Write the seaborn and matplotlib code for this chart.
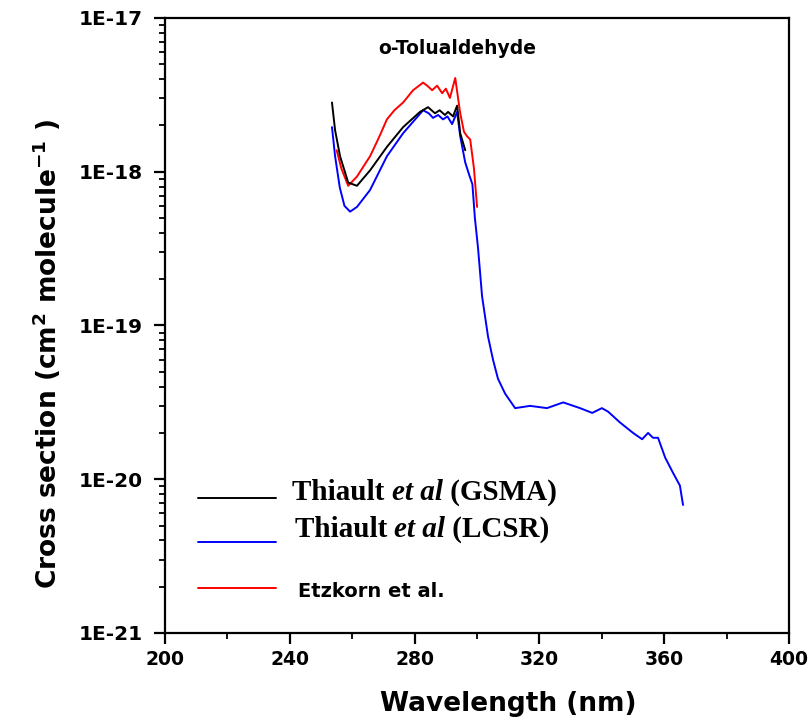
import matplotlib
matplotlib.use("Agg")
import matplotlib.pyplot as plt
import matplotlib.ticker as mticker
import numpy as np
import pandas as pd
import seaborn as sns

sns.set_theme(style="ticks")
plt.rcParams.update({'font.family'      : ['DejaVu Sans'],
                     'font.weight'      : 'bold',
                     'text.color'       : 'black',
                     'axes.labelcolor'  : 'black',
                     'xtick.color'      : 'black',
                     'ytick.color'      : 'black',
                     'axes.linewidth'   : 1.6,
                     'mathtext.fontset' : 'dejavusans'})

# Thiault et al (GSMA)
wl_gsma = [253.5, 254.5, 256.1, 258.7, 261.5, 265.7, 271.1, 276.3, 281.7, 284.3,
           286.5, 288.0, 289.7, 290.7, 292.3, 293.6, 294.6, 296.2]
xs_gsma = [2.82e-18, 1.86e-18, 1.26e-18, 8.5e-19, 8.1e-19, 1.02e-18, 1.45e-18, 1.95e-18, 2.45e-18, 2.63e-18,
           2.40e-18, 2.51e-18, 2.34e-18, 2.45e-18, 2.29e-18, 2.69e-18, 1.78e-18, 1.38e-18]

# Thiault et al (LCSR)
wl_lcsr = [253.5, 254.5, 256.0, 257.5, 259.3, 261.5, 265.7, 271.1, 276.3, 282.7,
           284.5, 285.9, 287.5, 289.1, 290.5, 292.0, 293.6, 294.6, 296.2, 297.5,
           298.5, 299.3, 300.3, 301.6, 303.5, 305.1, 306.7, 309.0, 312.2, 317.0,
           322.4, 327.6, 333.0, 336.9, 340.0, 342.0, 345.8, 350.0, 352.9, 354.8,
           356.4, 358.0, 360.3, 362.8, 365.0, 366.0]
xs_lcsr = [1.95e-18, 1.26e-18, 7.9e-19, 6.0e-19, 5.5e-19, 5.9e-19, 7.6e-19, 1.26e-18, 1.78e-18, 2.51e-18,
           2.40e-18, 2.24e-18, 2.34e-18, 2.19e-18, 2.29e-18, 2.04e-18, 2.45e-18, 1.70e-18, 1.15e-18, 9.5e-19,
           8.3e-19, 5.0e-19, 3.2e-19, 1.55e-19, 8.5e-20, 6.0e-20, 4.5e-20, 3.6e-20, 2.9e-20, 3.0e-20,
           2.9e-20, 3.16e-20, 2.9e-20, 2.7e-20, 2.9e-20, 2.75e-20, 2.34e-20, 2.0e-20, 1.82e-20, 2.0e-20,
           1.86e-20, 1.86e-20, 1.38e-20, 1.10e-20, 9.1e-21, 6.8e-21]

# Etzkorn et al.
wl_etz = [255.0, 256.5, 258.7, 261.5, 265.7, 268.5, 271.1, 273.5, 276.3, 279.5,
          282.7, 284.0, 285.6, 287.2, 288.8, 290.0, 291.3, 293.0, 294.6, 295.8,
          296.8, 297.8, 299.0, 300.0]
xs_etz = [1.38e-18, 1.05e-18, 8.1e-19, 9.3e-19, 1.26e-18, 1.66e-18, 2.19e-18, 2.51e-18, 2.82e-18, 3.39e-18,
          3.80e-18, 3.63e-18, 3.39e-18, 3.63e-18, 3.24e-18, 3.47e-18, 3.02e-18, 4.07e-18, 2.40e-18, 1.82e-18,
          1.70e-18, 1.62e-18, 1.05e-18, 5.9e-19]

series_names = ['GSMA', 'LCSR', 'Etzkorn']
series_colors = {'GSMA': 'black', 'LCSR': '#0000ff', 'Etzkorn': '#ff0000'}

y_major = [1e-21, 1e-20, 1e-19, 1e-18, 1e-17]

df = pd.concat([
    pd.DataFrame({'wl': wl_gsma, 'xs': xs_gsma, 'src': 'GSMA'}),
    pd.DataFrame({'wl': wl_lcsr, 'xs': xs_lcsr, 'src': 'LCSR'}),
    pd.DataFrame({'wl': wl_etz,  'xs': xs_etz,  'src': 'Etzkorn'}),
])

fig = plt.figure(figsize=(8.11, 7.22), dpi=100)
ax = fig.add_axes([0.2035, 0.1233, 0.7695, 0.8518])

# blue underneath, black on top
for name in ['LCSR', 'Etzkorn', 'GSMA']:
    sns.lineplot(data=df[df['src'] == name], x='wl', y='xs', ax=ax, sort=False,
                 estimator=None, color=series_colors[name], lw=1.4, legend=False)

ax.set_yscale('log')
ax.set_xlim(200, 400)
ax.set_ylim(1e-21, 1e-17)
ax.xaxis.set_major_locator(mticker.MultipleLocator(40))
ax.xaxis.set_minor_locator(mticker.MultipleLocator(20))
y_minor = [m * v for v in y_major[:-1] for m in range(2, 10)]
ax.yaxis.set_major_locator(mticker.FixedLocator(y_major))
ax.yaxis.set_minor_locator(mticker.FixedLocator(y_minor))
ax.yaxis.set_minor_formatter(mticker.NullFormatter())
ax.yaxis.set_major_formatter(mticker.FuncFormatter(lambda v, p: f"1E{int(round(np.log10(v)))}"))
ax.tick_params(axis='both', which='major', direction='out', length=8, width=1.6)
ax.tick_params(axis='x', which='major', labelsize=13.5, pad=4)
ax.tick_params(axis='y', which='major', labelsize=14.5, pad=8)
ax.tick_params(axis='both', which='minor', direction='out', length=4.5, width=1.3)
ax.tick_params(top=False, right=False, which='both')
for s in ax.spines.values():
    s.set_linewidth(1.6)
    s.set_color('black')

ax.set_xlabel("Wavelength (nm)", fontsize=19, fontweight='bold', va='top')
ax.xaxis.set_label_coords(0.55, -0.095)
ax.set_ylabel(r"Cross section (cm$^{\mathbf{2}}$ molecule$^{\mathbf{-1}}$ )", fontsize=19,
              fontweight='bold', va='center')
ax.yaxis.set_label_coords(-0.189, 0.454)

ax.text(0.468, 0.9496, "o-Tolualdehyde", transform=ax.transAxes, ha='center', va='center',
        fontsize=13.5, fontweight='bold')

# legend drawn by hand
leg_y = {'GSMA': 0.2195, 'LCSR': 0.148, 'Etzkorn': 0.073}
for name in series_names:
    ax.plot([0.053, 0.178], [leg_y[name], leg_y[name]], transform=ax.transAxes,
            color=series_colors[name], lw=1.4)
serif = ['Liberation Serif', 'DejaVu Serif']
for name, x0, y0 in [('GSMA', 0.2035, 0.2285), ('LCSR', 0.208, 0.1675)]:
    t1 = ax.text(x0, y0, "Thiault ", transform=ax.transAxes, va='center', ha='left',
                 family=serif, fontsize=21, fontweight='bold')
    t2 = ax.annotate("et al", xy=(1, 0), xycoords=t1, va='bottom', ha='left',
                     family=serif, fontsize=21, fontweight='bold', style='italic')
    ax.annotate(f" ({name})", xy=(1, 0), xycoords=t2, va='bottom', ha='left',
                family=serif, fontsize=21, fontweight='bold')
ax.text(0.213, 0.068, "Etzkorn et al.", transform=ax.transAxes, va='center', ha='left',
        fontsize=14, fontweight='bold')

plt.savefig('out.png', dpi=100)
